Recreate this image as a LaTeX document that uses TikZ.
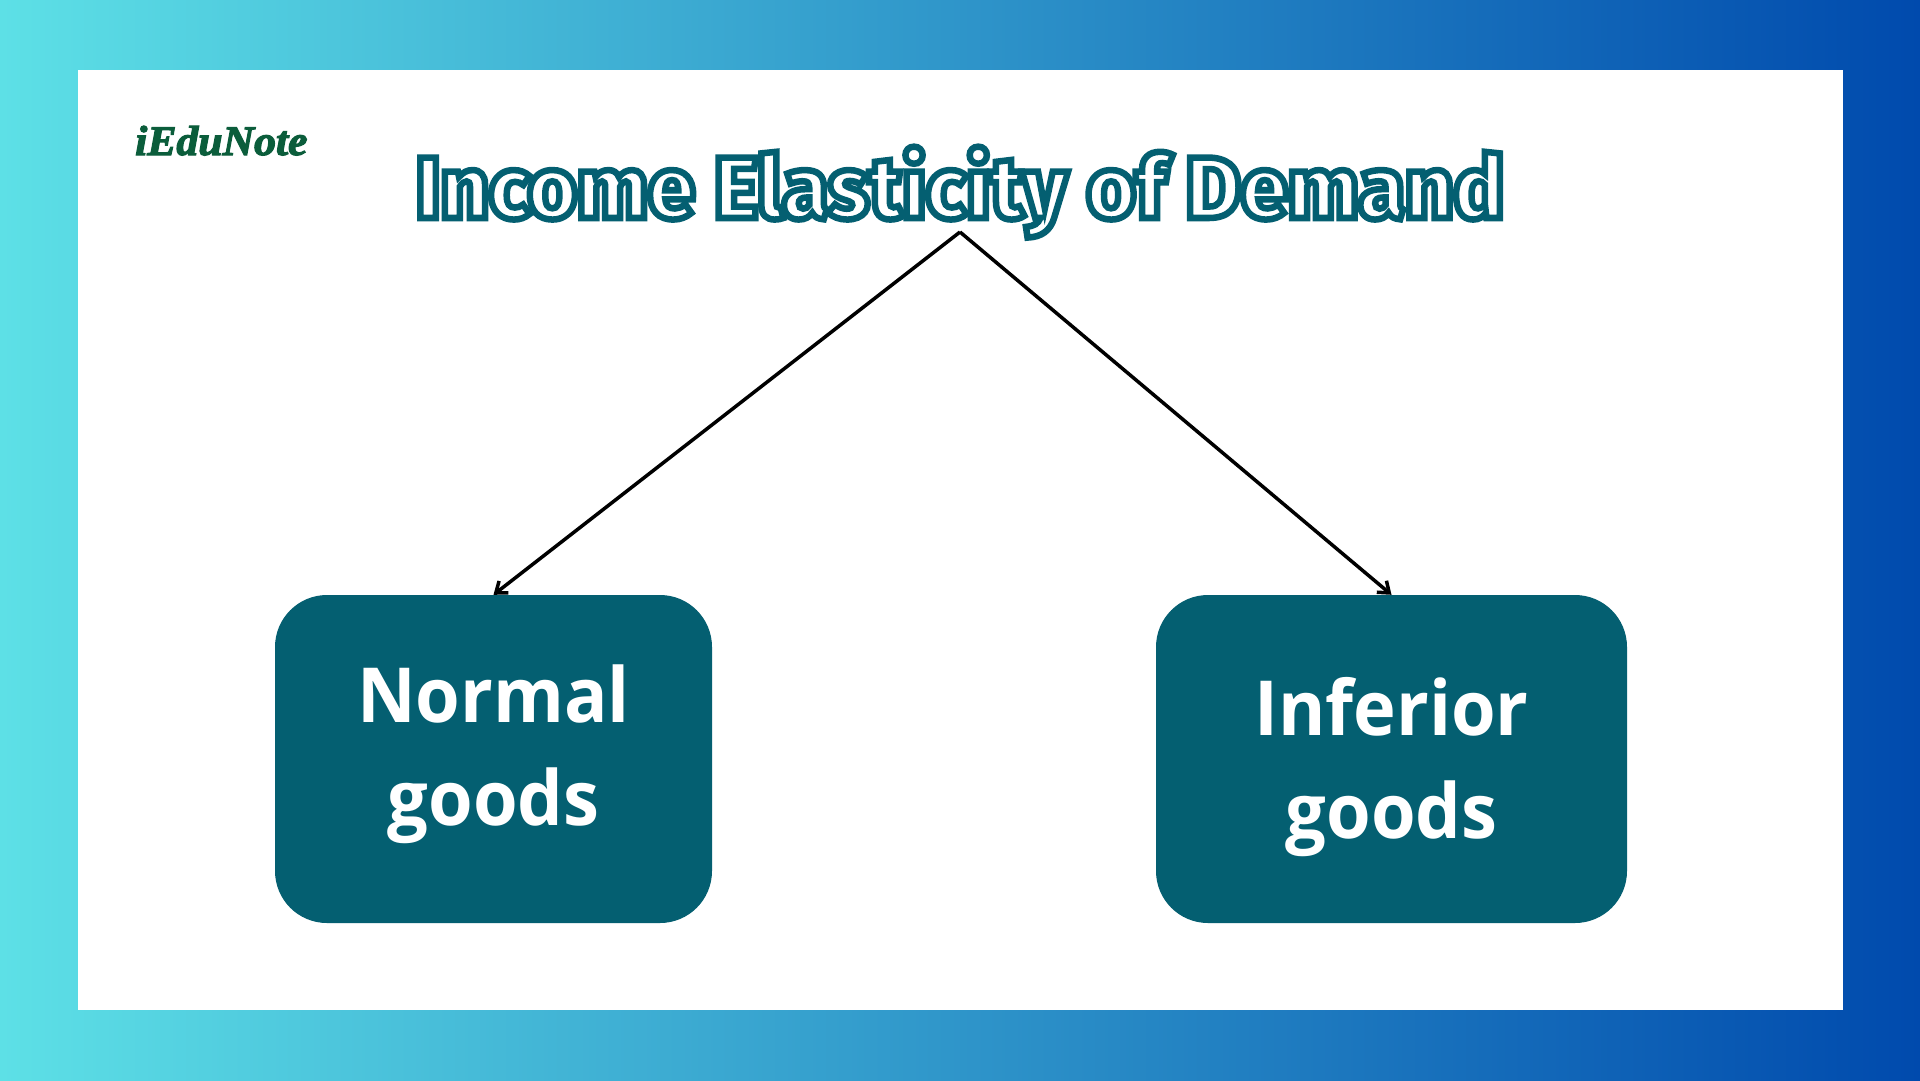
\documentclass[tikz,border=0pt]{standalone}
\usepackage{fontspec}
\setmainfont{Open Sans}
\newfontfamily\logofont[FakeStretch=1.04]{Liberation Serif}
\newfontfamily\titlefont[FakeStretch=0.97]{Fira Sans ExtraBold}
\newfontfamily\boxfont[FakeStretch=0.95]{Open Sans}
\definecolor{teal}{HTML}{045F71}
\definecolor{logog}{HTML}{0B5D3B}
\definecolor{gradl}{HTML}{5DE0E6}
\definecolor{gradr}{HTML}{004AAD}
\usetikzlibrary{arrows.meta}
\tikzset{
  goodsbox/.style={fill=teal,rounded corners=52pt,inner sep=0pt,align=center,text=white,
    font=\boxfont\fontsize{76}{103}\selectfont\bfseries},
  link/.style={draw=black,line width=3.5pt,-{Straight Barb[length=10pt,width=15pt]}},
}
\begin{document}
\begin{tikzpicture}[x=1pt,y=-1pt]
\useasboundingbox (0,0) rectangle (1920,1080);
\shade[left color=gradl,right color=gradr] (0,0) rectangle (1920,1080);
\fill[white] (78,70) rectangle (1843,1010);
\node[anchor=base west,inner sep=0pt,text=logog,font=\logofont\fontsize{42}{42}\selectfont\bfseries\itshape] (logo) at (135,155)
  {\special{pdf:code 2 Tr 1.2 w 0.043 0.365 0.231 RG}iEduNote\special{pdf:code 0 Tr}};
\node[anchor=base,inner sep=0pt,text=white,font=\titlefont\fontsize{87}{87}\selectfont] (title) at (960,218)
  {\special{pdf:code 2 Tr 6.5 w 0.016 0.373 0.443 RG}Income Elasticity of Demand\special{pdf:code 0 Tr}};
\coordinate (apex) at (960,232);
\node[goodsbox,minimum width=437pt,minimum height=328pt] (normal) at (493.5,759) {Normal\\goods\rule[-27pt]{0pt}{27pt}};
\node[goodsbox,minimum width=471pt,minimum height=328pt] (inferior) at (1391.5,759) {\rule{0pt}{75pt}Inferior\\goods};
\draw[link] (apex) -- (normal.north);
\draw[link] (apex) -- (inferior.north);
\end{tikzpicture}
\end{document}
